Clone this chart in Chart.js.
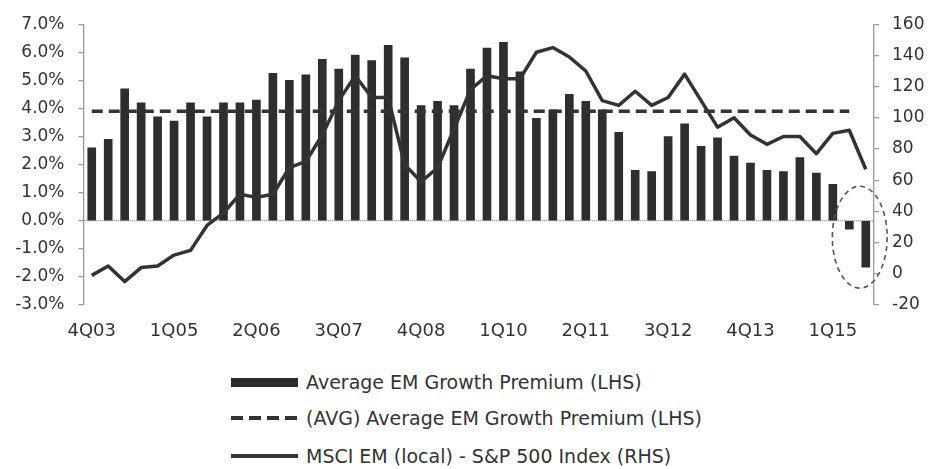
<!DOCTYPE html>
<html>
<head>
<meta charset="utf-8">
<script src="https://cdn.jsdelivr.net/npm/chart.js@4"></script>
<style>
    body { margin: 0; background: #fff; }
    #wrap { position: relative; width: 928px; height: 469px; overflow: hidden; }
    #myChart { position: absolute; left: 0; top: 0; }
    .legend_row { position: absolute; left: 231px; height: 24px; display: flex; align-items: center;
        font-family: "DejaVu Sans", sans-serif; font-size: 19px; color: #333; white-space: nowrap; }
    .legend_key { width: 67px; margin-right: 8px; }
    .key_bar { height: 9px; background: #2e2e2e; }
    .key_dash { height: 4px; background: repeating-linear-gradient(to right, #333 0 12px, transparent 12px 18px); }
    .key_line { height: 4px; background: #333; }
</style>
</head>
<body>
<div id="wrap">
    <canvas id="myChart" width="928" height="350"></canvas>
    <div class="legend_row" style="top: 370px;"><div class="legend_key key_bar"></div><span class="legend_text"></span></div>
    <div class="legend_row" style="top: 406px;"><div class="legend_key key_dash"></div><span class="legend_text"></span></div>
    <div class="legend_row" style="top: 444px;"><div class="legend_key key_line"></div><span class="legend_text"></span></div>
</div>
<script>
// Data
const quarters = [
    '4Q03', '1Q04', '2Q04', '3Q04', '4Q04', '1Q05', '2Q05', '3Q05', '4Q05', '1Q06',
    '2Q06', '3Q06', '4Q06', '1Q07', '2Q07', '3Q07', '4Q07', '1Q08', '2Q08', '3Q08',
    '4Q08', '1Q09', '2Q09', '3Q09', '4Q09', '1Q10', '2Q10', '3Q10', '4Q10', '1Q11',
    '2Q11', '3Q11', '4Q11', '1Q12', '2Q12', '3Q12', '4Q12', '1Q13', '2Q13', '3Q13',
    '4Q13', '1Q14', '2Q14', '3Q14', '4Q14', '1Q15', '2Q15', '3Q15'
];
const emGrowthPremium = [
    2.6, 2.9, 4.7, 4.2, 3.7, 3.55, 4.2, 3.7, 4.2, 4.2,
    4.3, 5.25, 5.0, 5.2, 5.75, 5.4, 5.9, 5.7, 6.25, 5.8,
    4.1, 4.25, 4.1, 5.4, 6.15, 6.35, 5.3, 3.65, 3.95, 4.5,
    4.25, 3.95, 3.15, 1.8, 1.75, 3.0, 3.45, 2.65, 2.95, 2.3,
    2.05, 1.8, 1.75, 2.25, 1.7, 1.3, -0.3, -1.65
];
const avgGrowthPremium = [
    3.9, 3.9, 3.9, 3.9, 3.9, 3.9, 3.9, 3.9, 3.9, 3.9,
    3.9, 3.9, 3.9, 3.9, 3.9, 3.9, 3.9, 3.9, 3.9, 3.9,
    3.9, 3.9, 3.9, 3.9, 3.9, 3.9, 3.9, 3.9, 3.9, 3.9,
    3.9, 3.9, 3.9, 3.9, 3.9, 3.9, 3.9, 3.9, 3.9, 3.9,
    3.9, 3.9, 3.9, 3.9, 3.9, 3.9, 3.9, null
];
const msciVsSp500 = [
    -1, 5, -5, 4, 5, 12, 15, 31, 39, 51,
    49, 51, 68, 72, 89, 111, 127, 113, 113, 70,
    59, 68, 93, 118, 127, 125, 125, 142, 145, 139,
    130, 111, 108, 117, 108, 113, 128, 111, 94, 100,
    89, 83, 88, 88, 77, 90, 92, 67
];
const seriesLabels = [
    'Average EM Growth Premium (LHS)',
    '(AVG) Average EM Growth Premium (LHS)',
    'MSCI EM (local) - S&P 500 Index (RHS)'
];
// dashed ellipse round the last two quarters (category index / LHS value)
const circleFrom = 44.97, circleTo = 48.3;
const circleTop = 1.23, circleBottom = -2.4;

// DOM Elements
const legendTexts = document.querySelectorAll('.legend_text');
legendTexts.forEach((eachText, index) => {
    eachText.textContent = seriesLabels[index];
});

Chart.defaults.font.family = '"DejaVu Sans", sans-serif';
Chart.defaults.color = '#333';

const ellipsePlugin = {
    id: 'ellipsePlugin',
    afterDatasetsDraw(chart) {
        const ctx = chart.ctx;
        const xScale = chart.scales.x;
        const yScale = chart.scales.y;
        const left = xScale.getPixelForValue(circleFrom);
        const right = xScale.getPixelForValue(circleTo);
        const top = yScale.getPixelForValue(circleTop);
        const bottom = yScale.getPixelForValue(circleBottom);
        ctx.save();
        ctx.beginPath();
        ctx.ellipse((left + right) / 2, (top + bottom) / 2, (right - left) / 2, (bottom - top) / 2, 0, 0, Math.PI * 2);
        ctx.setLineDash([5, 4]);
        ctx.lineWidth = 1.6;
        ctx.strokeStyle = '#555';
        ctx.stroke();
        ctx.restore();
    }
};

let ctx = document.getElementById('myChart').getContext('2d');
let chart = new Chart(ctx, {
    data: {
        labels: quarters,
        datasets: [
            {
                type: 'line',
                label: seriesLabels[2],
                data: msciVsSp500,
                yAxisID: 'y1',
                borderColor: '#333',
                borderWidth: 3.5,
                pointRadius: 0,
                tension: 0,
                borderJoinStyle: 'round',
                order: 1
            },
            {
                type: 'line',
                label: seriesLabels[1],
                data: avgGrowthPremium,
                yAxisID: 'y',
                borderColor: '#333',
                borderWidth: 3.5,
                borderDash: [11, 6],
                pointRadius: 0,
                order: 2
            },
            {
                type: 'bar',
                label: seriesLabels[0],
                data: emGrowthPremium,
                yAxisID: 'y',
                backgroundColor: '#2e2e2e',
                barThickness: 8,
                order: 3
            }
        ]
    },
    options: {
        responsive: false,
        animation: false,
        layout: { padding: { top: 22, left: 0, right: 0, bottom: 0 } },
        plugins: {
            legend: { display: false },
            tooltip: { enabled: false }
        },
        scales: {
            x: {
                offset: true,
                grid: { display: false, drawTicks: false },
                border: { display: false },
                ticks: {
                    autoSkip: false,
                    maxRotation: 0,
                    padding: 16,
                    font: { size: 18 },
                    callback: function(value, index) {
                        return index % 5 === 0 ? this.getLabelForValue(value) : '';
                    }
                },
                afterFit: (scale) => { scale.height = 45; }
            },
            y: {
                position: 'left',
                min: -3,
                max: 7,
                ticks: {
                    stepSize: 1,
                    padding: 14,
                    font: { size: 17 },
                    callback: (value) => value.toFixed(1) + '%'
                },
                grid: {
                    color: (c) => (c.tick && c.tick.value === 0) ? '#8a8a8a' : 'rgba(0,0,0,0)',
                    tickColor: '#999',
                    tickLength: 5,
                    lineWidth: 1.3
                },
                border: { color: '#999', width: 1.3, dash: [1, 1] },
                afterFit: (scale) => { scale.width = 83.5; }
            },
            y1: {
                position: 'right',
                min: -20,
                max: 160,
                ticks: {
                    stepSize: 20,
                    padding: 13,
                    font: { size: 17 }
                },
                grid: {
                    drawOnChartArea: false,
                    tickColor: '#999',
                    tickLength: 5,
                    lineWidth: 1.3
                },
                border: { color: '#999', width: 1.3, dash: [1, 1] },
                afterFit: (scale) => { scale.width = 54; }
            }
        }
    },
    plugins: [ellipsePlugin]
});
</script>
</body>
</html>
